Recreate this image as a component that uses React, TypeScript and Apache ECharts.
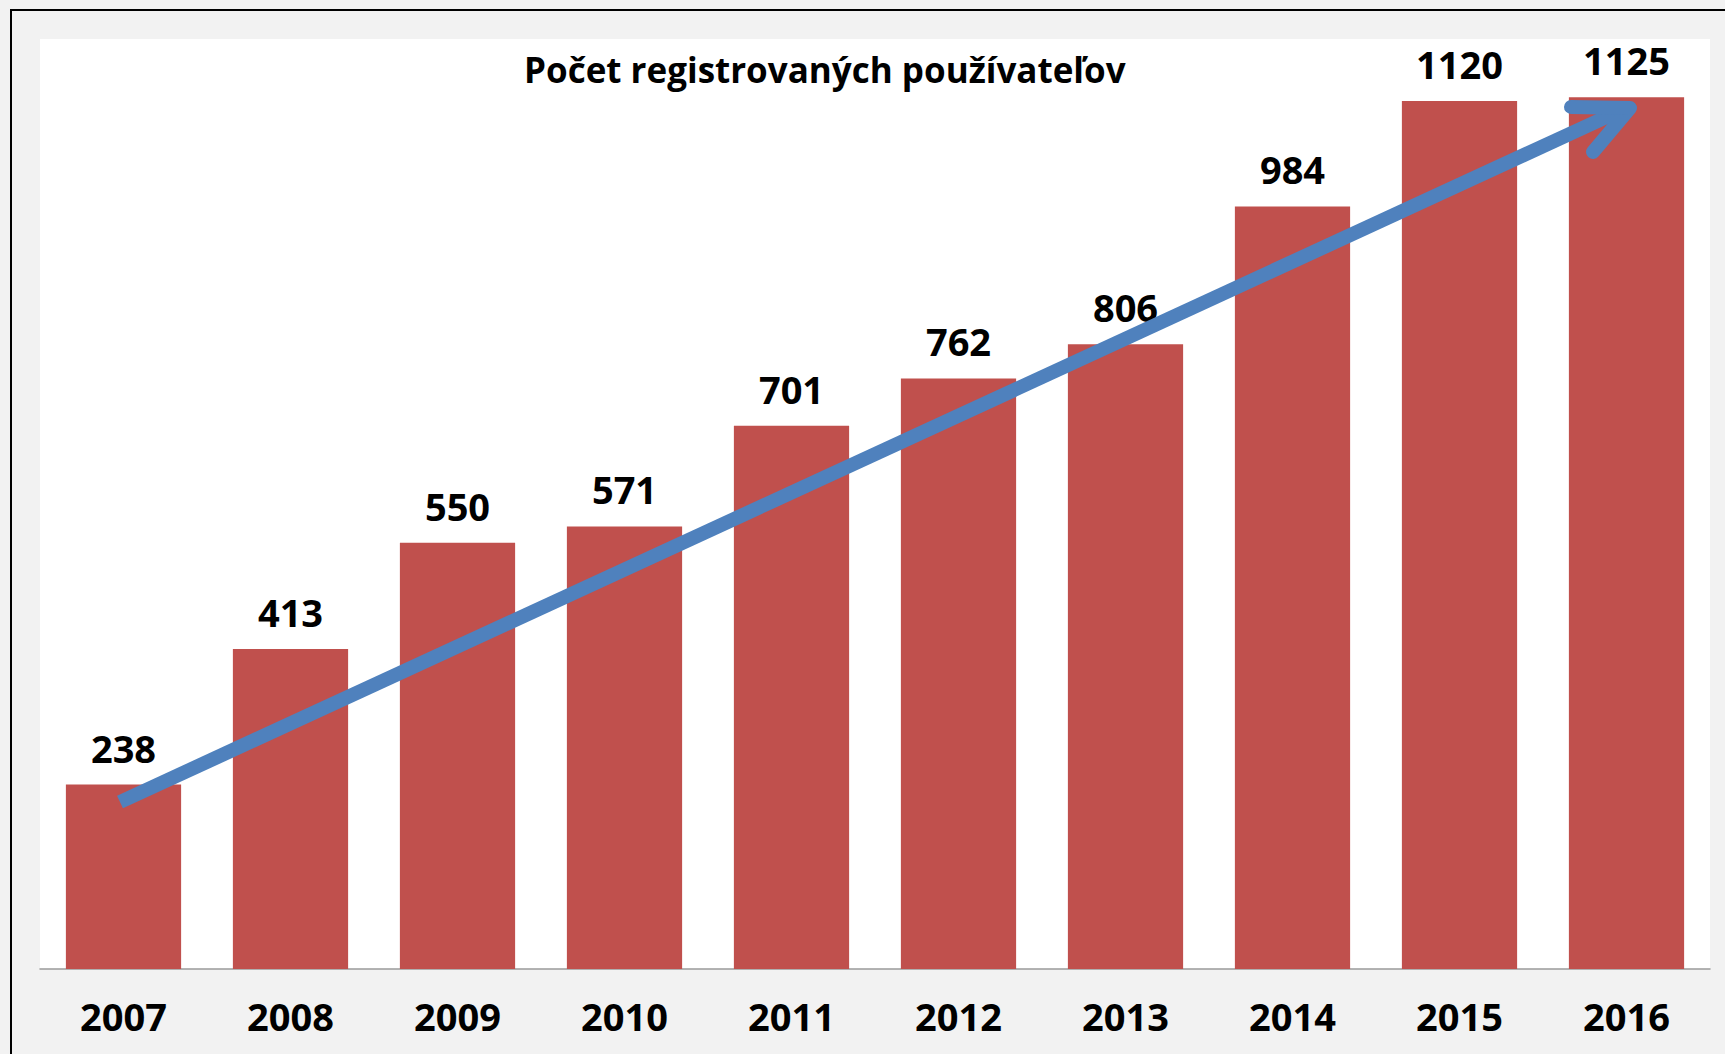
import React, { useEffect, useRef } from "react";
import * as echarts from "echarts";

const years = ["2007", "2008", "2009", "2010", "2011", "2012", "2013", "2014", "2015", "2016"];
const users = [238, 413, 550, 571, 701, 762, 806, 984, 1120, 1125];
const titleText = "Počet registrovaných používateľov";

const FONT = "'Open Sans', 'Noto Sans', sans-serif";

export default function App() {
  const ref = useRef<HTMLDivElement>(null);
  useEffect(() => {
    if (!ref.current) return;
    const chart = echarts.init(ref.current, null, { renderer: "svg" });
    chart.setOption({
      animation: false,
      backgroundColor: "#f2f2f2",
      title: {
        text: titleText,
        left: 524,
        top: 52,
        padding: 0,
        textStyle: { fontFamily: FONT, fontWeight: "bold", fontSize: 35, color: "#000" },
      },
      grid: {
        left: 40,
        right: 15,
        top: 39,
        bottom: 85,
        show: true,
        backgroundColor: "#ffffff",
        borderWidth: 0,
      },
      xAxis: {
        type: "category",
        data: years,
        axisLine: { show: true, lineStyle: { color: "#9a9a9a", width: 1.5 } },
        axisTick: { show: false },
        axisLabel: {
          margin: 28,
          fontFamily: FONT,
          fontWeight: "bold",
          fontSize: 38,
          color: "#000",
        },
      },
      yAxis: {
        type: "value",
        min: 0,
        max: 1200,
        show: false,
        splitLine: { show: false },
      },
      series: [
        {
          type: "bar",
          data: users,
          barCategoryGap: "31%",
          itemStyle: { color: "#c0504d" },
          label: {
            show: true,
            position: "top",
            distance: 18,
            fontFamily: FONT,
            fontWeight: "bold",
            fontSize: 38,
            color: "#000",
          },
        },
      ],
      graphic: [
        {
          type: "rect",
          shape: { x: 11, y: 10, width: 1800, height: 1200 },
          style: { fill: "none", stroke: "#000", lineWidth: 2 },
          silent: true,
          z: 100,
        },
        {
          type: "polyline",
          shape: { points: [[120, 802], [1626, 108]] },
          style: { stroke: "#4f81bd", lineWidth: 14, fill: "none", lineCap: "butt" },
          z: 100,
        },
        {
          type: "polyline",
          shape: { points: [[1571, 107], [1630, 108], [1593, 152]] },
          style: { stroke: "#4f81bd", lineWidth: 14, fill: "none", lineCap: "round", lineJoin: "round" },
          z: 100,
        },
      ],
    });
    return () => chart.dispose();
  }, []);
  return (
    <div
      ref={ref}
      style={{ position: "fixed", left: 0, top: 0, width: 1725, height: 1054 }}
    />
  );
}
